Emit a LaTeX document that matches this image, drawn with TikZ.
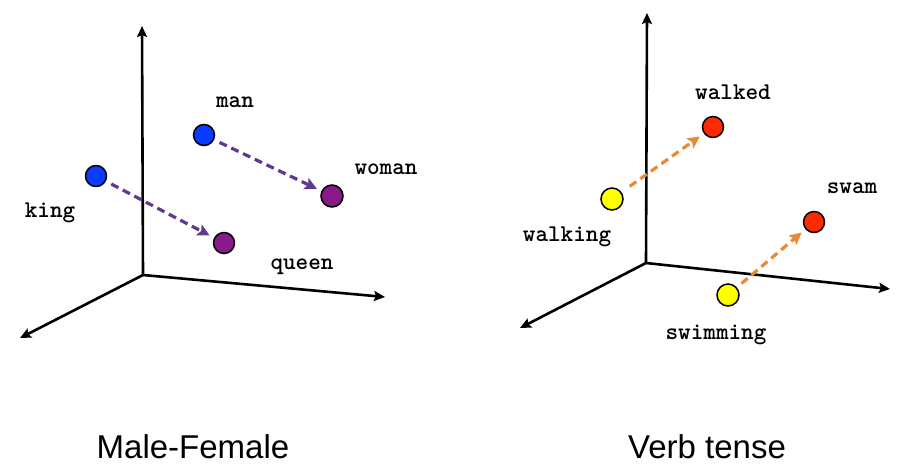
\documentclass[tikz,border=0pt]{standalone}
\usepackage{fontspec}
\setmainfont{Liberation Sans}
\usetikzlibrary{arrows.meta}
\begin{document}
\begin{tikzpicture}[x=1pt,y=-1pt,
  axis/.style={line width=2.6pt,-{Stealth[length=11pt,width=10pt,inset=2pt]}},
  pt/.style={circle,draw=black,line width=1.5pt,inner sep=0pt},
  big/.style={pt,minimum size=22pt},
  small/.style={pt,minimum size=21pt},
  vec/.style={line width=3.2pt,dash pattern=on 8pt off 5pt,-{Stealth[length=12pt,width=12pt,inset=2.5pt]},shorten <=6pt,shorten >=5pt},
  lab/.style={font=\ttfamily\bfseries\fontsize{24}{24}\selectfont,anchor=base,inner sep=0pt},
  captext/.style={font=\fontsize{33}{33}\selectfont,anchor=base,inner sep=0pt}]
\useasboundingbox (0,0) rectangle (921,475);
\definecolor{bluept}{HTML}{0A3CFF}
\definecolor{purplept}{HTML}{8A1A8A}
\definecolor{purplearr}{HTML}{5E3A8E}
\definecolor{redpt}{HTML}{FF2A00}
\definecolor{yellowpt}{HTML}{FFFF00}
\definecolor{orangearr}{HTML}{EB8A35}
% left axes
\coordinate (o1) at (143,275);
\coordinate (y1) at (142,26);
\coordinate (x1) at (385,297);
\coordinate (z1) at (20,338);
\draw[axis] (o1) -- (y1);
\draw[axis] (o1) -- (x1);
\draw[axis] (o1) -- (z1);
% left points
\node[small,fill=bluept] (man) at (204,135) {};
\node[small,fill=bluept] (king) at (96,176) {};
\node[big,fill=purplept] (woman) at (332,196) {};
\node[small,fill=purplept] (queen) at (224,243) {};
\draw[vec,purplearr] (man) -- (woman);
\draw[vec,purplearr] (king) -- (queen);
\node[lab] (lman) at (235,107) {man};
\node[lab] (lwoman) at (386,174) {woman};
\node[lab] (lking) at (50,217) {king};
\node[lab] (lqueen) at (302,269) {queen};
% right axes
\coordinate (o2) at (646,263);
\coordinate (y2) at (647,13);
\coordinate (x2) at (890,289);
\coordinate (z2) at (520,328);
\draw[axis] (o2) -- (y2);
\draw[axis] (o2) -- (x2);
\draw[axis] (o2) -- (z2);
% right points
\node[small,fill=redpt] (walked) at (713,127) {};
\node[big,fill=yellowpt] (walking) at (612,199) {};
\node[small,fill=redpt] (swam) at (814,222) {};
\node[big,fill=yellowpt] (swimming) at (728,295) {};
\draw[vec,orangearr,shorten <=10pt] (walking) -- (walked);
\draw[vec,orangearr] (swimming) -- (swam);
\node[lab] (lwalked) at (733,99) {walked};
\node[lab] (lwalking) at (567,241) {walking};
\node[lab] (lswam) at (852,193) {swam};
\node[lab] (lswimming) at (716,339) {swimming};
% captions
\node[captext] (c1) at (193,458) {Male-Female};
\node[captext] (c2) at (707,458) {Verb tense};
\end{tikzpicture}
\end{document}
